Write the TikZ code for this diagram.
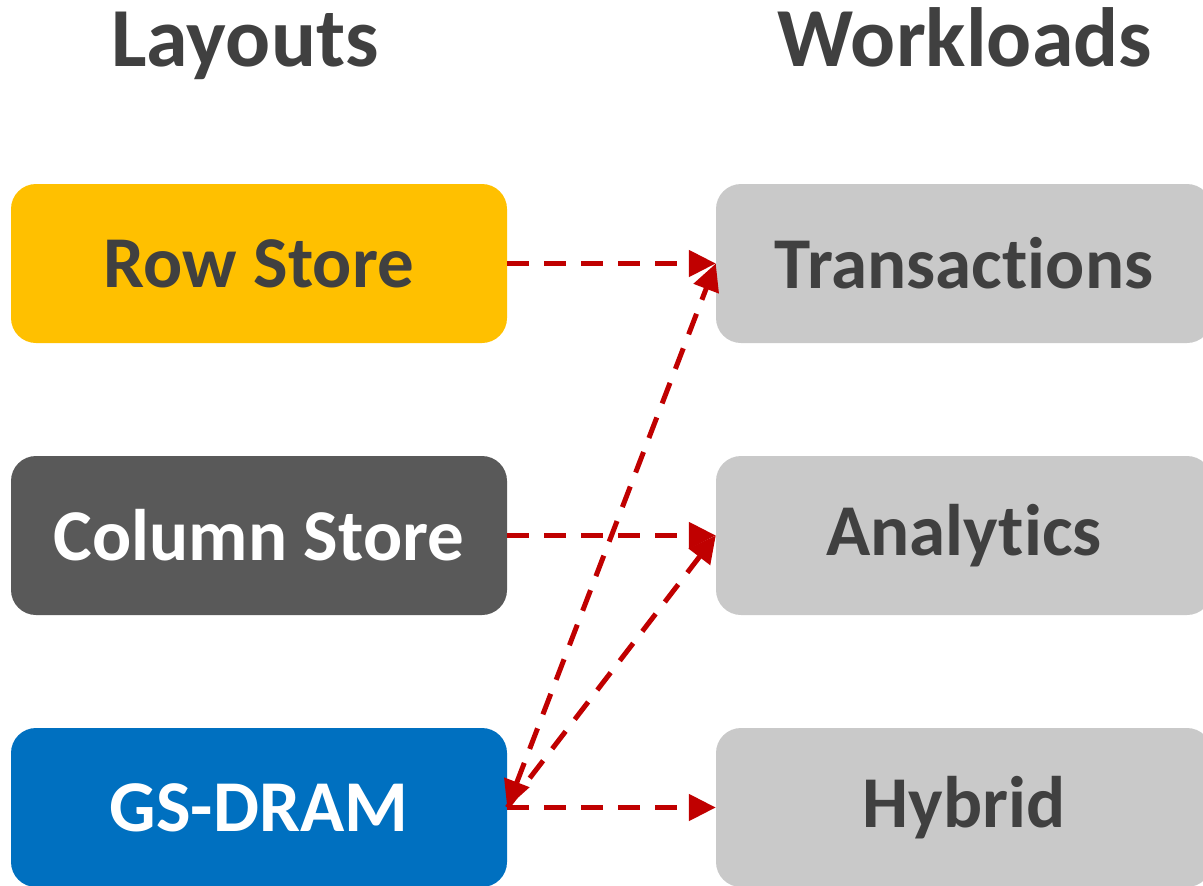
\documentclass[tikz,border=0pt]{standalone}
\usepackage{fontspec}
\setmainfont{Carlito}[Ligatures=NoCommon]
\usetikzlibrary{arrows.meta}
\definecolor{rowyellow}{HTML}{FFC000}
\definecolor{coldark}{HTML}{595959}
\definecolor{gsblue}{HTML}{0070C0}
\definecolor{wlgray}{HTML}{C9C9C9}
\definecolor{txtgray}{HTML}{404040}
\definecolor{arrowred}{HTML}{C00000}
% keep "t" and "i" as separate glyphs
\newcommand{\tisep}{\kern0pt\relax}
\tikzset{
  box/.style={rounded corners=25pt, minimum width=496pt, minimum height=159pt,
    inner sep=0pt, font=\fontsize{73}{80}\selectfont\bfseries},
  heading/.style={font=\fontsize{84}{90}\selectfont\bfseries, text=txtgray,
    inner sep=0pt, anchor=base},
  link/.style={draw=arrowred, line width=5pt, dash pattern=on 22pt off 15pt,
    -{Triangle[length=27pt,width=26pt]}},
  twoway/.style={link, {Triangle[length=27pt,width=26pt]}-{Triangle[length=27pt,width=26pt]}}
}
\begin{document}
\begin{tikzpicture}[x=1pt,y=-1pt]
\useasboundingbox (0,0) rectangle (1203,886);
\clip (0,0) rectangle (1203,886);
% column headings
\node[heading] (hl) at (245,66) {Layouts};
\node[heading] (hw) at (965,66) {Workloads};
% data layouts
\node[box, fill=rowyellow, text=txtgray] (row) at (259,263.5) {Row Store};
\node[box, fill=coldark, text=white] (col) at (259,535.5) {Column Store};
\node[box, fill=gsblue, text=white] (gs) at (259,807.5) {GS-DRAM};
% workloads
\node[box, fill=wlgray, text=txtgray] (tx) at (964,263.5) {Transact\tisep ions};
\node[box, fill=wlgray, text=txtgray] (an) at (964,535.5) {Analyt\tisep ics};
\node[box, fill=wlgray, text=txtgray] (hy) at (964,807.5) {Hybrid};
% which layout serves which workload
\draw[link] (row.east) -- (tx.west);
\draw[link] (col.east) -- (an.west);
\draw[link] (gs.east) -- (hy.west);
\draw[link] (gs.east) -- (an.west);
\draw[twoway] (gs.east) -- (tx.west);
\end{tikzpicture}
\end{document}
